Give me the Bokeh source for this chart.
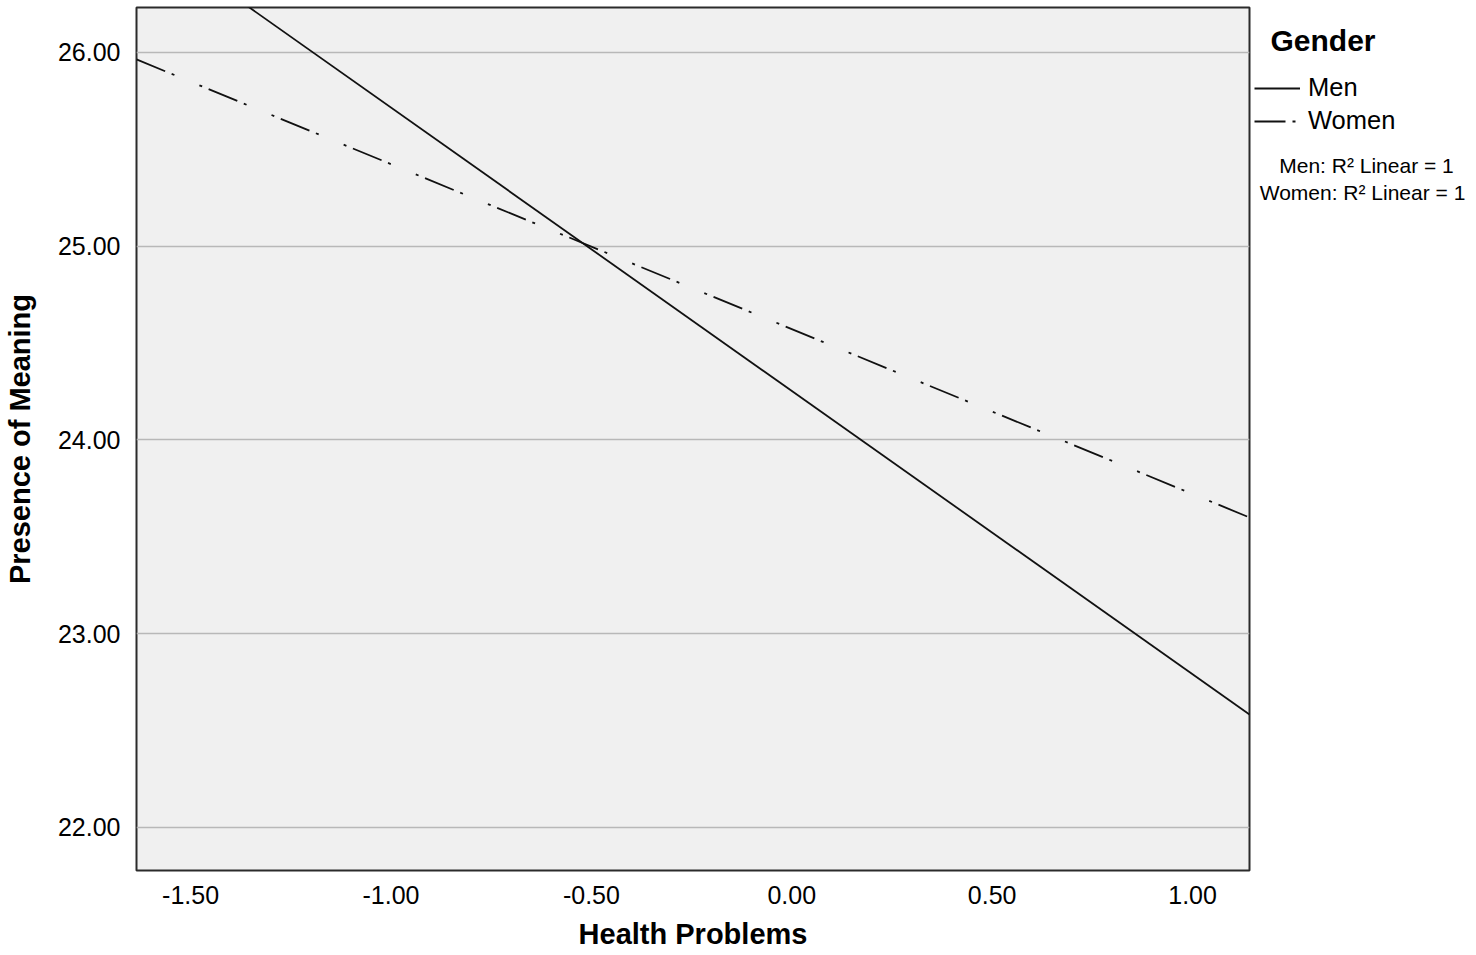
from bokeh.plotting import figure
from bokeh.layouts import row
from bokeh.models import Range1d, Legend, LegendItem, Label, FixedTicker, CustomJSTickFormatter
from bokeh.embed import file_html
from bokeh.resources import INLINE

# ---- data ----
x_vals = [-1.635, 1.142]
men_vals = [26.644, 22.583]
women_vals = [25.964, 23.600]
x_ticks = [-1.5, -1.0, -0.5, 0.0, 0.5, 1.0]
y_ticks = [22.0, 23.0, 24.0, 25.0, 26.0]
legend_title = "Gender"
series_names = ["Men", "Women"]
fit_notes = ["Men: R\u00b2 Linear = 1", "Women: R\u00b2 Linear = 1"]

FONT = "Liberation Sans"
X0, X1 = -1.635, 1.142
Y0, Y1 = 21.778, 26.232
H = 954
W_MAIN = 1252
W_LEG = 216
FRAME_BOTTOM = 870  # frames of the row are aligned

MEN_STYLE = dict(line_color="#111111", line_width=1.8)
WOMEN_STYLE = dict(line_color="#111111", line_width=1.8, line_dash="31 7 3 27 3 7")

p = figure(width=W_MAIN, height=H, output_backend="svg", toolbar_location=None,
           x_range=Range1d(X0, X1), y_range=Range1d(Y0, Y1),
           min_border_left=136, min_border_right=3, min_border_top=7,
           min_border_bottom=H - FRAME_BOTTOM, background_fill_color="#f0f0f0",
           border_fill_color="white")

p.outline_line_color = "#2b2b2b"
p.outline_line_width = 2
p.xgrid.grid_line_color = None
p.ygrid.grid_line_color = "#b8b8b8"
p.ygrid.grid_line_width = 1.5

for ax in (p.xaxis[0], p.yaxis[0]):
    ax.axis_line_color = None
    ax.major_tick_line_color = None
    ax.minor_tick_line_color = None
    ax.major_label_text_font = FONT
    ax.major_label_text_font_size = "25px"
    ax.major_label_text_color = "black"
    ax.axis_label_text_font = FONT
    ax.axis_label_text_font_style = "bold"
    ax.axis_label_text_font_size = "29px"
    ax.axis_label_text_color = "black"
    ax.formatter = CustomJSTickFormatter(code="return tick.toFixed(2);")

p.xaxis.ticker = FixedTicker(ticks=x_ticks)
p.yaxis.ticker = FixedTicker(ticks=y_ticks)
p.xaxis.axis_label = "Health Problems"
p.yaxis.axis_label = "Presence of Meaning"
p.xaxis.major_label_standoff = 9
p.yaxis.major_label_standoff = 10
p.xaxis.axis_label_standoff = 11
p.yaxis.axis_label_standoff = 19

p.line(x_vals, men_vals, **MEN_STYLE)
p.line(x_vals, women_vals, **WOMEN_STYLE)

# ---- legend panel (its own ranges keep the proxy lines out of view) ----
q = figure(width=W_LEG, height=H, output_backend="svg", toolbar_location=None,
           x_axis_type=None, y_axis_type=None, min_border=0,
           x_range=Range1d(100, 101), y_range=Range1d(100, 101),
           background_fill_color="white", border_fill_color="white")
q.outline_line_color = None
q.xgrid.grid_line_color = None
q.ygrid.grid_line_color = None

lm = q.line(x_vals, men_vals, **MEN_STYLE)
lw = q.line(x_vals, women_vals, **WOMEN_STYLE)

legend = Legend(items=[LegendItem(label=series_names[0], renderers=[lm]),
                       LegendItem(label=series_names[1], renderers=[lw])],
                location=(2, 735), orientation="vertical",
                padding=0, margin=0, spacing=4,
                label_height=28, glyph_height=28, glyph_width=46, label_standoff=8,
                label_text_font=FONT, label_text_font_size="25.5px",
                label_text_color="black",
                border_line_color=None, background_fill_alpha=0)
q.add_layout(legend, "center")


def sx(page_x):
    return page_x - W_MAIN


def sy(page_y):
    return FRAME_BOTTOM - page_y


q.add_layout(Label(x=sx(1270), y=sy(40), x_units="screen", y_units="screen",
                   text=legend_title, text_font=FONT, text_font_style="bold",
                   text_font_size="30px", text_baseline="middle",
                   text_align="left", text_color="black"))
for note, py, pxc in zip(fit_notes, [165, 192], [1366, 1362]):
    q.add_layout(Label(x=sx(pxc), y=sy(py), x_units="screen", y_units="screen",
                       text=note, text_font=FONT, text_font_size="21px",
                       text_baseline="middle", text_align="center",
                       text_color="black"))

layout = row(p, q, spacing=0)
open("out.html", "w").write(file_html(layout, INLINE))
